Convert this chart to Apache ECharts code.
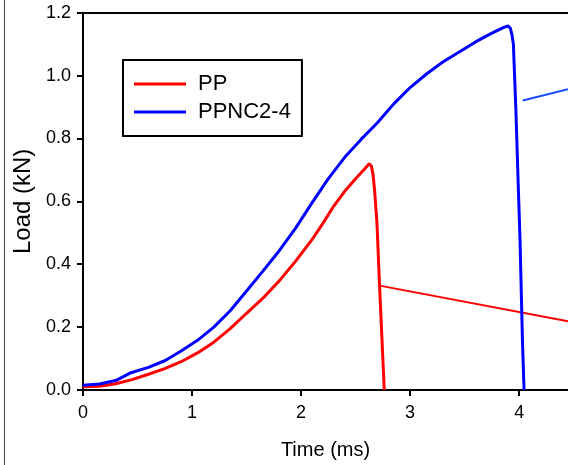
<!DOCTYPE html>
<html>
<head>
<meta charset="utf-8">
<script src="https://cdn.jsdelivr.net/npm/echarts@6/dist/echarts.min.js"></script>
<style>html,body{margin:0;padding:0;background:#fff}#c{width:568px;height:465px}</style>
</head>
<body>
<div id="c"></div>
<script>
var ppTime = [0, 0.15, 0.3, 0.45, 0.6, 0.75, 0.9, 1.05, 1.2, 1.35, 1.5, 1.65, 1.8, 1.95, 2.1, 2.2, 2.3, 2.4, 2.5, 2.58, 2.625, 2.645, 2.66, 2.674, 2.696, 2.72, 2.742, 2.763];
var ppLoad = [0.01, 0.012, 0.02, 0.033, 0.05, 0.068, 0.09, 0.118, 0.152, 0.195, 0.244, 0.292, 0.347, 0.41, 0.478, 0.53, 0.585, 0.632, 0.672, 0.702, 0.72, 0.712, 0.685, 0.637, 0.531, 0.33, 0.161, 0];
var ncTime = [0, 0.15, 0.3, 0.44, 0.6, 0.75, 0.9, 1.05, 1.2, 1.35, 1.5, 1.65, 1.8, 1.95, 2.1, 2.25, 2.4, 2.55, 2.7, 2.85, 3.0, 3.15, 3.3, 3.45, 3.6, 3.75, 3.85, 3.9, 3.92, 3.935, 3.947, 3.97, 3.993, 4.008, 4.03, 4.045];
var ncLoad = [0.015, 0.019, 0.03, 0.055, 0.072, 0.093, 0.124, 0.158, 0.2, 0.252, 0.315, 0.378, 0.443, 0.515, 0.595, 0.672, 0.74, 0.797, 0.85, 0.91, 0.962, 1.005, 1.043, 1.075, 1.107, 1.135, 1.152, 1.158, 1.15, 1.128, 1.10, 0.891, 0.637, 0.478, 0.161, 0];
var ppLeader = [[2.72, 0.332], [4.448, 0.219]];
var ncLeader = [[4.033, 0.921], [4.448, 0.957]];
var xTicks = [0, 1, 2, 3, 4];
var yTicks = ['0.0', '0.2', '0.4', '0.6', '0.8', '1.0', '1.2'];

function zip(a, b) { return a.map(function (v, i) { return [v, b[i]]; }); }
var FONT = 'Liberation Sans, Arial, sans-serif';
var chart = echarts.init(document.getElementById('c'), null, { renderer: 'canvas' });
chart.setOption({
  animation: false,
  backgroundColor: '#fff',
  grid: { left: 83, right: 0, top: 12.7, bottom: 74.3, containLabel: false },
  graphic: [{ type: 'line', shape: { x1: 4.5, y1: 0, x2: 4.5, y2: 465 }, style: { stroke: '#444', lineWidth: 1 } }],
  legend: {
    data: ['PP', 'PPNC2-4'],
    orient: 'vertical', left: 123, top: 60,
    padding: [13, 11, 13, 11], itemGap: 6,
    itemWidth: 52, itemHeight: 3, icon: 'rect',
    borderColor: '#000', borderWidth: 2, backgroundColor: '#fff',
    textStyle: { fontFamily: FONT, fontSize: 22, color: '#000', padding: [0, 0, 0, 7] }
  },
  xAxis: [{
    type: 'value', min: 0, max: 4.448, interval: 1,
    name: 'Time (ms)', nameLocation: 'middle', nameGap: 50,
    nameTextStyle: { fontFamily: FONT, fontSize: 20, color: '#000' },
    axisLine: { onZero: false, lineStyle: { color: '#000', width: 2 } },
    axisTick: { length: 6, lineStyle: { color: '#000', width: 2 } },
    axisLabel: { fontFamily: FONT, fontSize: 18, color: '#000', margin: 14,
      formatter: function (v) { return xTicks.indexOf(v) >= 0 ? String(v) : ''; }, showMaxLabel: false },
    splitLine: { show: false }
  }, {
    type: 'value', position: 'top', min: 0, max: 4.448,
    axisLine: { show: true, onZero: false, lineStyle: { color: '#000', width: 2 } },
    axisTick: { show: false }, axisLabel: { show: false }, splitLine: { show: false }
  }],
  yAxis: {
    type: 'value', min: 0, max: 1.2, interval: 0.2,
    name: 'Load (kN)', nameLocation: 'middle', nameGap: 46,
    nameTextStyle: { fontFamily: FONT, fontSize: 24, color: '#000' },
    axisLine: { show: true, onZero: false, lineStyle: { color: '#000', width: 2 } },
    axisTick: { show: true, length: 6, lineStyle: { color: '#000', width: 2 } },
    axisLabel: { fontFamily: FONT, fontSize: 18, color: '#000', margin: 12,
      formatter: function (v) { return yTicks[Math.round(v / 0.2)]; } },
    splitLine: { show: false }
  },
  series: [
    { name: 'PP', type: 'line', data: zip(ppTime, ppLoad), showSymbol: false, symbol: 'none',
      lineStyle: { color: '#ff0000', width: 3 }, itemStyle: { color: '#ff0000' }, z: 3 },
    { name: 'PPNC2-4', type: 'line', data: zip(ncTime, ncLoad), showSymbol: false, symbol: 'none',
      lineStyle: { color: '#0000ff', width: 3 }, itemStyle: { color: '#0000ff' }, z: 4 },
    { name: 'ppLeader', type: 'line', data: ppLeader, symbol: 'none',
      lineStyle: { color: '#ff0000', width: 2 }, z: 2 },
    { name: 'ncLeader', type: 'line', data: ncLeader, symbol: 'none',
      lineStyle: { color: '#1a4cff', width: 2 }, z: 2 }
  ]
});
</script>
</body>
</html>
